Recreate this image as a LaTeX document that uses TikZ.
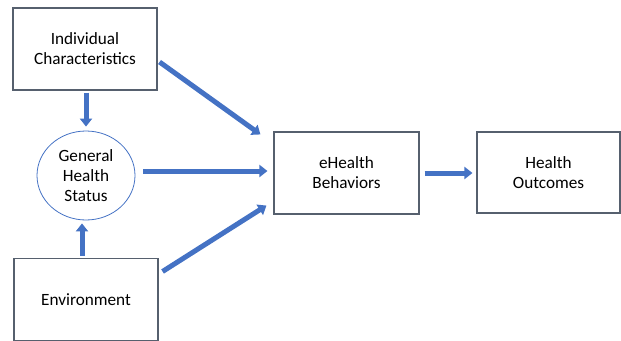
\documentclass[tikz,border=0pt]{standalone}
\usepackage{fontspec}
\setmainfont{Carlito}
\usetikzlibrary{shapes.geometric,arrows.meta,calc}
\definecolor{boxline}{HTML}{56606E}
\definecolor{arrblue}{HTML}{4472C4}
\begin{document}
\begin{tikzpicture}[x=1pt,y=-1pt,
  box/.style={draw=boxline,line width=1.1pt,rectangle,minimum width=144pt,minimum height=82pt,align=center,font=\fontsize{17.2}{20}\selectfont,inner sep=0pt},
  oval/.style={draw=arrblue,line width=0.8pt,ellipse,minimum width=98pt,minimum height=89pt,align=center,font=\fontsize{17.2}{20}\selectfont,inner sep=0pt},
  blk/.style={draw=arrblue,line width=5pt,-{Triangle[width=12pt,length=8pt]}}]
\useasboundingbox (0,0) rectangle (621,340);
\begin{scope}
\clip (0,0) rectangle (621,340);
\node[box] (ic) at (85,49) {Individual\\Characteristics};
\node[oval] (ghs) at (86,175.5) {General\\Health\\Status};
\node[box] (env) at (86,299.5) {Environment};
\node[box,minimum width=145pt] (eh) at (346.5,173) {eHealth\\Behaviors};
\node[box,minimum width=143pt,minimum height=81pt] (ho) at (548.5,172.5) {Health\\Outcomes};
\end{scope}
\coordinate (a1s) at ($(ic.east)+(2,13)$);
\coordinate (a1e) at ($(eh.north west)+(-13,3)$);
\draw[blk] (a1s) -- (a1e);
\coordinate (a2s) at ($(ic.south)+(1,2)$);
\coordinate (a2e) at ($(ghs.north)+(0,-4)$);
\draw[blk] (a2s) -- (a2e);
\coordinate (a3s) at ($(ghs.east)+(8,-4.5)$);
\coordinate (a3e) at ($(eh.west)+(-6,-2)$);
\draw[blk] (a3s) -- (a3e);
\coordinate (a4s) at ($(env.north)+(-4,-2)$);
\coordinate (a4e) at ($(ghs.south)+(-4,3)$);
\draw[blk] (a4s) -- (a4e);
\coordinate (a5s) at ($(env.east)+(4,-28)$);
\coordinate (a5e) at ($(eh.south west)+(-7,-9)$);
\draw[blk] (a5s) -- (a5e);
\coordinate (a6s) at ($(eh.east)+(5,0)$);
\coordinate (a6e) at ($(ho.west)+(-4,0.5)$);
\draw[blk] (a6s) -- (a6e);
\end{tikzpicture}
\end{document}
